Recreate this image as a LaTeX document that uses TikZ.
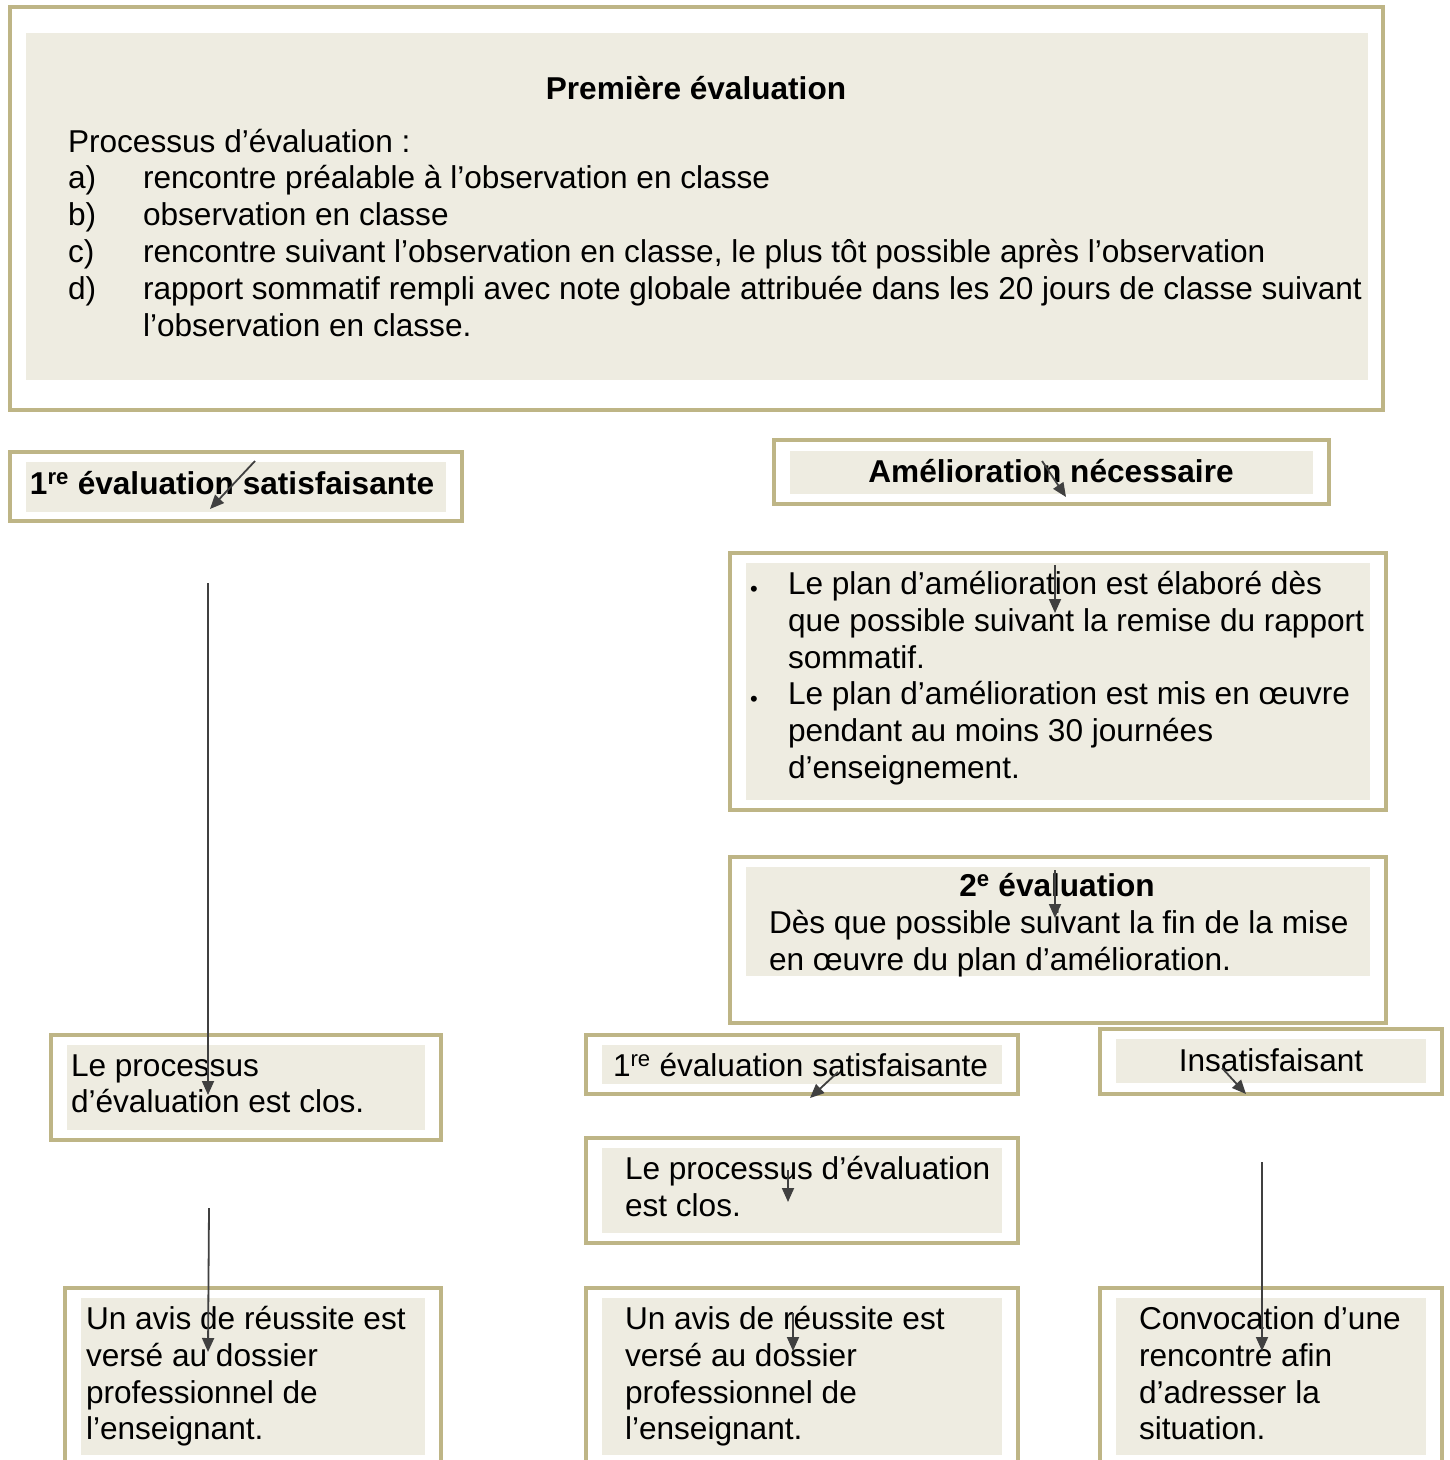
\documentclass[tikz,border=0pt]{standalone}
\usepackage{fontspec}
\setmainfont{Liberation Sans}
\usetikzlibrary{arrows.meta}
\definecolor{tanb}{RGB}{190,181,134}
\definecolor{bgb}{RGB}{238,236,225}
\definecolor{arrc}{RGB}{64,64,64}
\tikzset{
  obox/.style={draw=tanb, line width=4pt},
  ibox/.style={fill=bgb},
  txt/.style={inner sep=0pt, outer sep=0pt, anchor=base west, align=left, font=\fontsize{31.6}{36.8}\selectfont},
  btxt/.style={txt, font=\fontsize{31.6}{36.8}\selectfont\bfseries},
  ctxt/.style={txt, anchor=base, align=center},
  bul/.style={inner sep=0pt, anchor=base west, font=\fontsize{22}{22}\selectfont},
  arr/.style={draw=arrc, line width=1.8pt, -{Triangle[length=14pt,width=12pt]}}
}
\begin{document}
\begin{tikzpicture}[x=1pt,y=-1pt]
\useasboundingbox[fill=white] (0,0) rectangle (1450,1460);
% ---------- boxes ----------
\draw[obox] (10,7) rectangle (1383,410);
\fill[ibox] (26,33) rectangle (1368,380);
\draw[obox] (10,452) rectangle (462,521);
\fill[ibox] (26,462) rectangle (446,512);
\draw[obox] (774,440) rectangle (1329,504);
\fill[ibox] (790,451) rectangle (1313,494);
\draw[obox] (730,553) rectangle (1386,810);
\fill[ibox] (746,563) rectangle (1370,800);
\draw[obox] (730,857) rectangle (1386,1023);
\fill[ibox] (746,867) rectangle (1370,976);
\draw[obox] (51,1035) rectangle (441,1140);
\fill[ibox] (67,1045) rectangle (425,1130);
\draw[obox] (586,1035) rectangle (1018,1094);
\fill[ibox] (602,1045) rectangle (1002,1084);
\draw[obox] (1100,1029) rectangle (1442,1094);
\fill[ibox] (1116,1039) rectangle (1426,1083);
\draw[obox] (586,1138) rectangle (1018,1243);
\fill[ibox] (602,1148) rectangle (1002,1233);
\draw[obox] (65,1465) -- (65,1288) -- (441,1288) -- (441,1465);
\fill[ibox] (81,1298) rectangle (425,1455);
\draw[obox] (586,1465) -- (586,1288) -- (1018,1288) -- (1018,1465);
\fill[ibox] (602,1298) rectangle (1002,1455);
\draw[obox] (1100,1465) -- (1100,1288) -- (1442,1288) -- (1442,1465);
\fill[ibox] (1116,1298) rectangle (1426,1455);
% ---------- texts ----------
\node[btxt, anchor=base, align=center] (title) at (696,99) {Première évaluation};
\node[txt] (proc) at (68,152) {Processus d’évaluation :};
\node[txt] (la) at (68,188) {a)};
\node[txt] (lb) at (68,225) {b)};
\node[txt] (lc) at (68,262) {c)};
\node[txt] (ld) at (68,299) {d)};
\node[txt] (ia) at (143,188) {rencontre préalable à l’observation en classe};
\node[txt] (ib) at (143,225) {observation en classe};
\node[txt] (ic) at (143,262) {rencontre suivant l’observation en classe, le plus tôt possible après l’observation};
\node[txt] (id) at (143,299) {rapport sommatif rempli avec note globale attribuée dans les 20 jours de classe suivant};
\node[txt] (ie) at (143,336) {l’observation en classe.};
\node[btxt] (sat1) at (30,494) {1\textsuperscript{re} évaluation satisfaisante};
\node[btxt, anchor=base, align=center] (amel) at (1051,482) {Amélioration nécessaire};
\node[bul] (bu1) at (750,596) {•};
\node[bul] (bu2) at (750,706) {•};
\node[txt] (p1) at (788,594) {Le plan d’amélioration est élaboré dès};
\node[txt] (p2) at (788,631) {que possible suivant la remise du rapport};
\node[txt] (p3) at (788,668) {sommatif.};
\node[txt] (p4) at (788,704) {Le plan d’amélioration est mis en œuvre};
\node[txt] (p5) at (788,741) {pendant au moins 30 journées};
\node[txt] (p6) at (788,778) {d’enseignement.};
\node[btxt, anchor=base, align=center] (ev2) at (1057,896) {2\textsuperscript{e} évaluation};
\node[txt] (d1) at (769,933) {Dès que possible suivant la fin de la mise};
\node[txt] (d2) at (769,970) {en œuvre du plan d’amélioration.};
\node[txt] (c1) at (71,1076) {Le processus};
\node[txt] (c2) at (71,1112) {d’évaluation est clos.};
\node[txt] (sat2) at (613,1076) {1\textsuperscript{re} évaluation satisfaisante};
\node[ctxt] (insat) at (1271,1071) {Insatisfaisant};
\node[txt] (m1) at (625,1179) {Le processus d’évaluation};
\node[txt] (m2) at (625,1216) {est clos.};
\node[txt] (u1) at (86,1329) {Un avis de réussite est};
\node[txt] (u2) at (86,1366) {versé au dossier};
\node[txt] (u3) at (86,1403) {professionnel de};
\node[txt] (u4) at (86,1439) {l’enseignant.};
\node[txt] (v1) at (625,1329) {Un avis de réussite est};
\node[txt] (v2) at (625,1366) {versé au dossier};
\node[txt] (v3) at (625,1403) {professionnel de};
\node[txt] (v4) at (625,1439) {l’enseignant.};
\node[txt] (w1) at (1139,1329) {Convocation d’une};
\node[txt] (w2) at (1139,1366) {rencontre afin};
\node[txt] (w3) at (1139,1403) {d’adresser la};
\node[txt] (w4) at (1139,1439) {situation.};
% ---------- connectors ----------
\coordinate (a1s) at (255,461); \coordinate (a1e) at (210,509);
\coordinate (a2s) at (1042,461); \coordinate (a2e) at (1066,497);
\coordinate (a3s) at (1055,565); \coordinate (a3e) at (1055,613);
\coordinate (a4s) at (1055,870); \coordinate (a4e) at (1055,918);
\coordinate (a5s) at (208,583); \coordinate (a5e) at (208,1095);
\coordinate (a6s) at (209,1208); \coordinate (a6e) at (208,1352);
\coordinate (a7s) at (838,1072); \coordinate (a7e) at (810,1098);
\coordinate (a8s) at (1222,1068); \coordinate (a8e) at (1246,1094);
\coordinate (a9s) at (788,1170); \coordinate (a9e) at (788,1202);
\coordinate (a10s) at (793,1313); \coordinate (a10e) at (793,1351);
\coordinate (a11s) at (1262,1162); \coordinate (a11e) at (1262,1351);
\draw[arr] (a1s) -- (a1e);
\draw[arr] (a2s) -- (a2e);
\draw[arr] (a3s) -- (a3e);
\draw[arr] (a4s) -- (a4e);
\draw[arr] (a5s) -- (a5e);
\draw[arr] (a6s) -- (a6e);
\draw[arr] (a7s) -- (a7e);
\draw[arr] (a8s) -- (a8e);
\draw[arr] (a9s) -- (a9e);
\draw[arr] (a10s) -- (a10e);
\draw[arr] (a11s) -- (a11e);
\end{tikzpicture}
\end{document}
